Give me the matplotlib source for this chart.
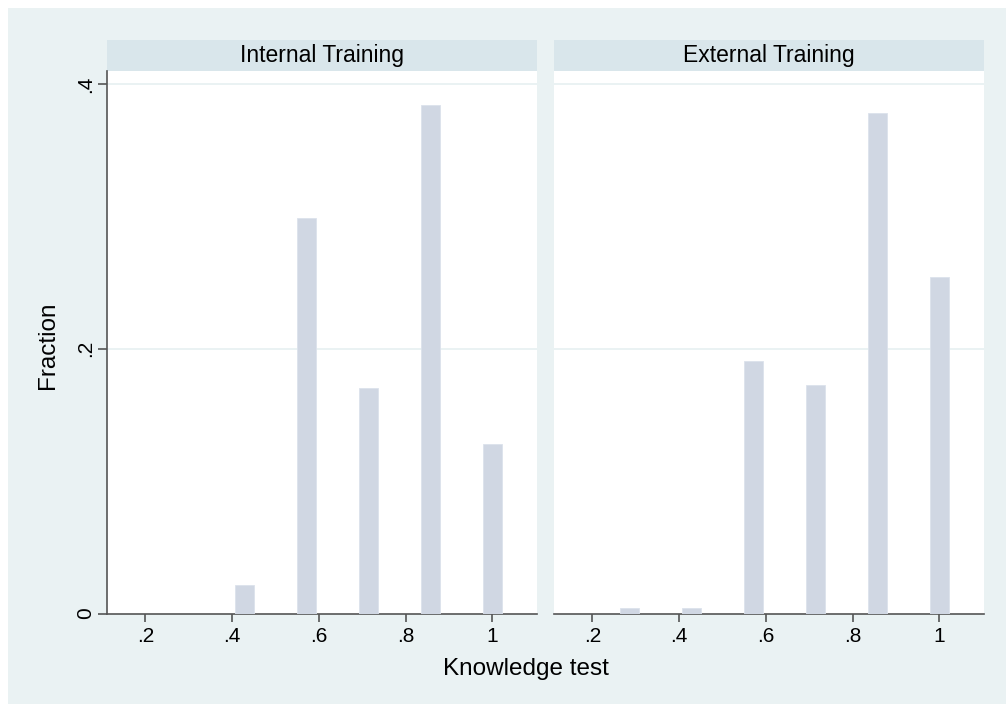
import matplotlib
matplotlib.use('Agg')
import matplotlib.pyplot as plt
from matplotlib.patches import Rectangle

plt.rcParams['font.family'] = ['Liberation Sans', 'DejaVu Sans']

# test scores (share of 7 items correct) and fraction of trainees per score
scores = [0.2857, 0.4286, 0.5714, 0.7143, 0.8571, 1.0]
internal = [0.0, 0.0215, 0.2986, 0.170, 0.384, 0.128]
external = [0.004, 0.004, 0.1907, 0.1726, 0.3778, 0.254]
panels = ['Internal Training', 'External Training']
xticks = [0.2, 0.4, 0.6, 0.8, 1.0]
xticklabels = ['.2', '.4', '.6', '.8', '1']
yticks = [0, 0.2, 0.4]
yticklabels = ['0', '.2', '.4']

bg = '#EAF2F3'
strip_col = '#D9E6EB'
bar_col = '#D0D7E3'
axis_col = '#555555'

W, H = 1006, 704
fig = plt.figure(figsize=(W / 100, H / 100), dpi=100, facecolor='white')
fig.patches.append(Rectangle((8 / W, 0), 1 - 8 / W, (H - 8) / H,
                             transform=fig.transFigure, facecolor=bg,
                             edgecolor='none', zorder=-10))

def px_axes(x0, x1, ytop, ybot):
    return fig.add_axes([x0 / W, (H - ybot) / H, (x1 - x0) / W, (ybot - ytop) / H])

ax1 = px_axes(107, 537, 71, 613.5)
ax2 = px_axes(554, 984, 71, 613.5)

for ax, vals, title in zip([ax1, ax2], [internal, external], panels):
    ax.set_facecolor('white')
    ax.bar(scores, vals, width=0.3 / 7, color=bar_col, edgecolor='#DCE2EC',
           linewidth=0.6, zorder=3)
    ax.set_xlim(0.1112, 1.1031)
    ax.set_ylim(0, 0.4098)
    for yv in [0.2, 0.4]:
        ax.axhline(yv, color=bg, lw=1.4, zorder=1)
    ax.set_xticks(xticks)
    ax.set_xticklabels(xticklabels, fontsize=15)
    ax.tick_params(axis='x', length=6, width=1.2, color=axis_col, pad=4)
    for s in ['top', 'right']:
        ax.spines[s].set_visible(False)
    ax.spines['bottom'].set_color(axis_col)
    ax.spines['bottom'].set_linewidth(1.2)
    # strip header above the panel
    h = 31 / 542.5
    ax.add_patch(Rectangle((0, 1), 1, h, transform=ax.transAxes,
                           facecolor=strip_col, edgecolor='none', clip_on=False))
    ax.text(0.5, 1 + h / 2, title, transform=ax.transAxes, ha='center',
            va='center', fontsize=16.5, color='black')

ax1.set_yticks(yticks)
ax1.set_yticklabels(yticklabels, fontsize=15, rotation=90, va='center')
ax1.tick_params(axis='y', length=6.5, width=1.2, color=axis_col, pad=2)
ax1.spines['left'].set_color(axis_col)
ax1.spines['left'].set_linewidth(1.2)

ax2.spines['left'].set_visible(False)
ax2.set_yticks([])

fig.text(48 / W, 1 - 345 / H, 'Fraction', rotation=90, ha='center',
         va='center', fontsize=17.5)
fig.text(526 / W, 1 - 669 / H, 'Knowledge test', ha='center', va='center',
         fontsize=17.5)

fig.savefig('out.png', dpi=100, facecolor='white')
